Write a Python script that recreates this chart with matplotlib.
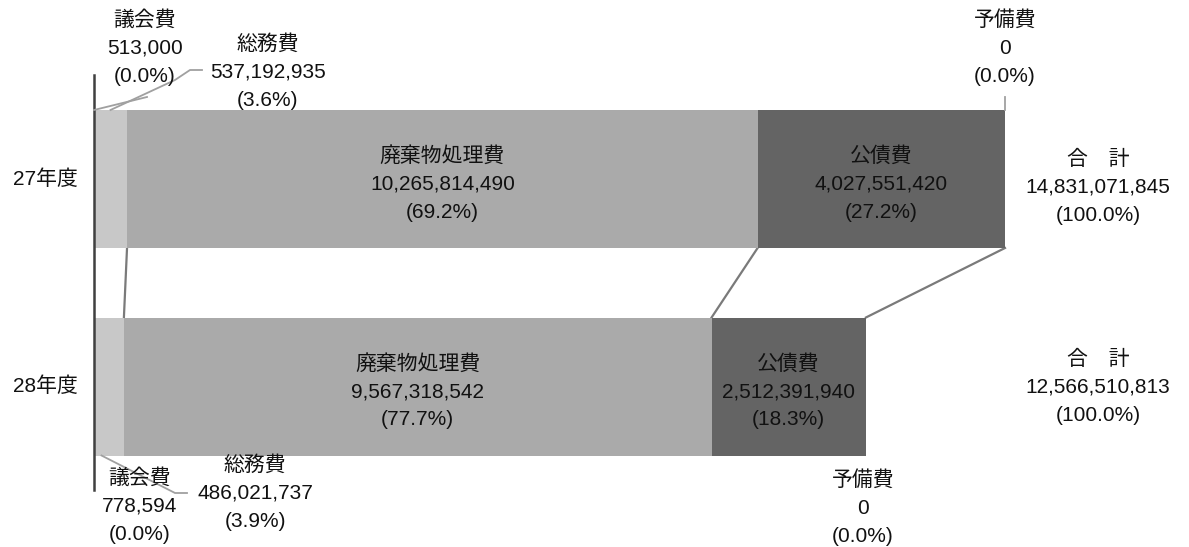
import matplotlib
matplotlib.use("Agg")
import matplotlib.pyplot as plt
import matplotlib.transforms as mtransforms
import numpy as np

plt.rcParams['font.family'] = ['Liberation Sans', 'Noto Sans CJK JP', 'DejaVu Sans']

# ---- data ----
categories = ['27年度', '28年度']
items = ['議会費', '総務費', '廃棄物処理費', '公債費', '予備費']
values_27 = [513000, 537192935, 10265814490, 4027551420, 0]
values_28 = [778594, 486021737, 9567318542, 2512391940, 0]
pct_27 = ['0.0', '3.6', '69.2', '27.2', '0.0']
pct_28 = ['0.0', '3.9', '77.7', '18.3', '0.0']
totals = [14831071845, 12566510813]
total_pct = ['100.0', '100.0']

colors = ['#c8c8c8', '#c8c8c8', '#aaaaaa', '#646464', '#646464']

W, H = 1189, 547
fig = plt.figure(figsize=(W / 100, H / 100), dpi=100)
ax = fig.add_axes([0, 0, 1, 1])

# pixel layout -> data limits
x0_px = 94
scale = (1005 - x0_px) / totals[0]          # px per unit value
ax.set_xlim(-x0_px / scale, (W - x0_px) / scale)
yc = [179, 386.5]
sep = yc[1] - yc[0]
ax.set_ylim((H - yc[0]) / sep, (0 - yc[0]) / sep)
bar_h = 138 / sep
ax.axis('off')

FS = 15
LS = 1.6
TC = '#111111'
data = [values_27, values_28]
pcts = [pct_27, pct_28]
ypos = np.arange(len(categories))

lefts_all = []
for i, vals in enumerate(data):
    lefts = np.concatenate([[0], np.cumsum(vals)[:-1]])
    lefts_all.append(lefts)
    ax.barh(ypos[i], vals, left=lefts, height=bar_h, color=colors,
            edgecolor='none', zorder=2)

# connecting lines between bars
for k in (1, 2):
    xa = lefts_all[0][k] + data[0][k]
    xb = lefts_all[1][k] + data[1][k]
    ax.plot([xa, xb], [ypos[0] + bar_h / 2, ypos[1] - bar_h / 2],
            color='#7a7a7a', lw=1.6, zorder=1)
ax.plot([totals[0], totals[1]], [ypos[0] + bar_h / 2, ypos[1] - bar_h / 2],
        color='#7a7a7a', lw=1.6, zorder=1)

def px2d(px, py):
    return ax.transData.inverted().transform(fig.transFigure.transform((px / W, 1 - py / H)))

# vertical axis line
ya = px2d(0, 75)[1]; yb = px2d(0, 490)[1]
ax.plot([0, 0], [ya, yb], color='#404040', lw=1.8, zorder=3)

def label(txt_lines, px, py):
    x, y = px2d(px, py)
    ax.text(x, y, '\n'.join(txt_lines), ha='center', va='center',
            fontsize=FS, color=TC, linespacing=LS, zorder=5)

def fmt(v):
    return f'{v:,}'

# category labels
for i, c in enumerate(categories):
    x, _ = px2d(45, 0)
    ax.text(x, ypos[i], c, ha='center', va='center', fontsize=FS, color=TC)

# inner labels (shifted slightly down)
shift = mtransforms.ScaledTranslation(0, -5 / 100, fig.dpi_scale_trans)
for i in range(2):
    for k in (2, 3):
        cx = lefts_all[i][k] + data[i][k] / 2
        ax.text(cx, ypos[i], f'{items[k]}\n{fmt(data[i][k])}\n({pcts[i][k]}%)',
                ha='center', va='center', fontsize=FS, color=TC,
                linespacing=LS, zorder=5, transform=ax.transData + shift)

# outside labels (27)
label([items[0], fmt(values_27[0]), f'({pct_27[0]}%)'], 145, 48)
label([items[1], fmt(values_27[1]), f'({pct_27[1]}%)'], 268, 72)
label([items[4], fmt(values_27[4]), f'({pct_27[4]}%)'], 1005, 48)
label(['合　計', fmt(totals[0]), f'({total_pct[0]}%)'], 1098, 187)
# outside labels (28)
label([items[0], fmt(values_28[0]), f'({pct_28[0]}%)'], 140, 506)
label([items[1], fmt(values_28[1]), f'({pct_28[1]}%)'], 255, 493)
label([items[4], fmt(values_28[4]), f'({pct_28[4]}%)'], 863, 508)
label(['合　計', fmt(totals[1]), f'({total_pct[1]}%)'], 1098, 387)

top27 = ypos[0] - bar_h / 2
bot28 = ypos[1] + bar_h / 2
LC = '#a0a0a0'
# 議会費 27
p = px2d(147, 97)
ax.plot([values_27[0] / 2, p[0]], [top27, p[1]], color=LC, lw=1.3, zorder=4)
# 総務費 27
a = px2d(175, 80); b = px2d(190, 70); c = px2d(202, 70)
ax.plot([lefts_all[0][1] + values_27[1] / 2, a[0], b[0], c[0]],
        [top27, a[1], b[1], c[1]], color=LC, lw=1.3, zorder=4)
# 予備費 27 tick
p = px2d(0, 97)
ax.plot([totals[0], totals[0]], [top27, p[1]], color=LC, lw=1.3, zorder=4)
# 総務費 28
a = px2d(175, 493); b = px2d(187, 493)
ax.plot([lefts_all[1][1] + values_28[1] / 4, a[0], b[0]],
        [bot28, a[1], b[1]], color=LC, lw=1.3, zorder=4)

fig.savefig('out.png', dpi=100, facecolor='white')
